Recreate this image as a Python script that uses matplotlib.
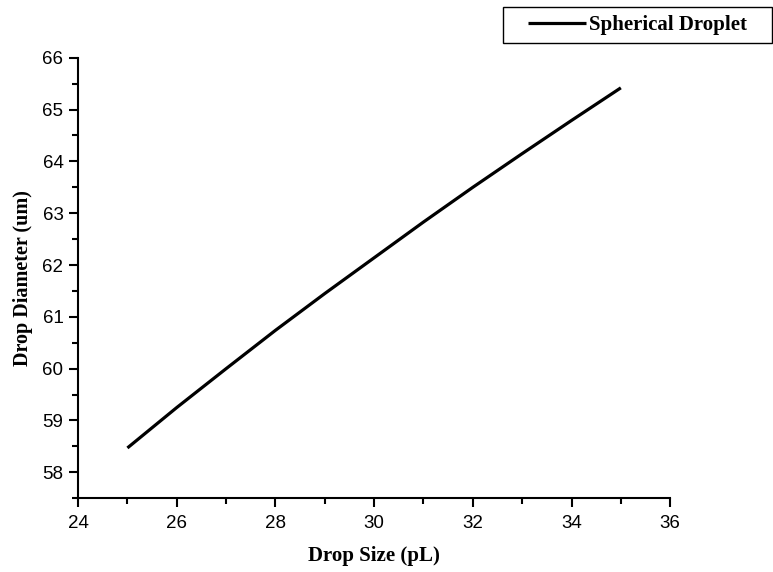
import matplotlib
matplotlib.use("Agg")
import matplotlib.pyplot as plt
from matplotlib.ticker import MultipleLocator
from matplotlib.patches import Rectangle

# Valores
drop_size = [25, 26, 27, 28, 29, 30, 31, 32, 33, 34, 35]
drop_diam = [58.47, 59.25, 60.00, 60.74, 61.45, 62.14, 62.83, 63.50, 64.15, 64.79, 65.42]

serif = "Liberation Serif"
sans = "Liberation Sans"

W, H = 773, 572
fig = plt.figure(figsize=(W / 100, H / 100), dpi=100)
ax = fig.add_axes([0.101, 0.129, 0.766, 0.770])

ax.plot(drop_size, drop_diam, color="black", lw=2.3, solid_capstyle="butt",
        label="Spherical Droplet")

ax.set_xlim(24, 36)
ax.set_ylim(57.5, 66)
ax.xaxis.set_major_locator(MultipleLocator(2))
ax.xaxis.set_minor_locator(MultipleLocator(1))
ax.yaxis.set_major_locator(MultipleLocator(1))
ax.yaxis.set_minor_locator(MultipleLocator(0.5))

for s in ["top", "right"]:
    ax.spines[s].set_visible(False)
for s in ["left", "bottom"]:
    ax.spines[s].set_linewidth(1.5)

ax.tick_params(which="major", direction="out", length=6.5, width=1.5, labelsize=13.5, pad=4)
ax.tick_params(axis="x", which="major", pad=5.5)
ax.tick_params(which="minor", direction="out", length=4, width=1.5)
for lab in ax.get_xticklabels() + ax.get_yticklabels():
    lab.set_fontfamily(sans)

ax.set_xlabel("Drop Size (pL)", fontfamily=serif, fontweight="bold", fontsize=15, labelpad=10)
ax.set_ylabel("Drop Diameter (um)", fontfamily=serif, fontweight="bold", fontsize=14.5, labelpad=7)

# marco de la leyenda (caja en la esquina superior derecha)
bx0, by0, bx1, by1 = 503, 7, 772, 43
fig.patches.append(Rectangle((bx0 / W, 1 - by1 / H), (bx1 - bx0) / W, (by1 - by0) / H,
                             transform=fig.transFigure, fill=False,
                             edgecolor="black", lw=1.0))

leg = fig.legend(loc="center",
                 bbox_to_anchor=((bx0 + bx1) / 2 / W, 1 - (by0 + by1) / 2 / H),
                 prop={"family": serif, "weight": "bold", "size": 15},
                 frameon=False, handlelength=2.8, handletextpad=0.15, borderpad=0)

fig.savefig("out.png", dpi=100)
